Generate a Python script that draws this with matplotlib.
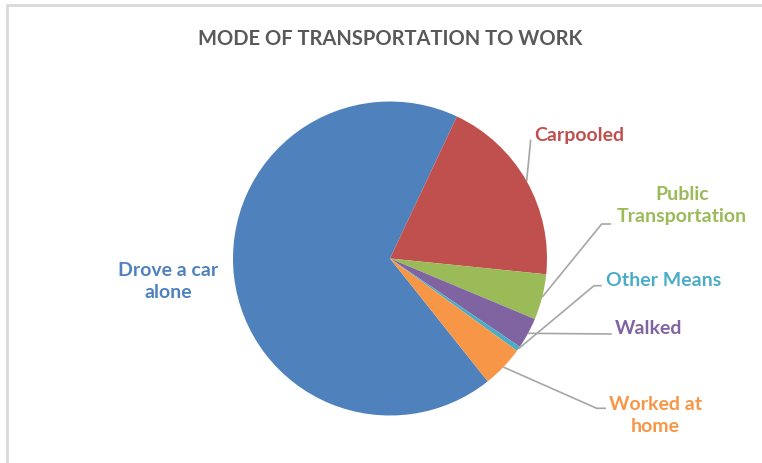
import numpy as np
import matplotlib
matplotlib.use("Agg")
import matplotlib.pyplot as plt
from matplotlib.patches import Rectangle

categories = ["Drove a car\nalone", "Carpooled", "Public\nTransportation", "Walked",
              "Other Means", "Worked at\nhome"]
values = [67.7, 19.6, 4.7, 3.2, 0.5, 4.3]
colors = ["#4F81BD", "#C0504D", "#9BBB59", "#8064A2", "#4BACC6", "#F79646"]
title = "MODE OF TRANSPORTATION TO WORK"

W, H = 762, 464
fig = plt.figure(figsize=(W / 100, H / 100), dpi=100)
ax = fig.add_axes([0, 0, 1, 1])
ax.set_xlim(0, W)
ax.set_ylim(0, H)
ax.set_aspect("equal")
ax.axis("off")

FONT = ["Lato", "DejaVu Sans"]

# chart border
ax.add_patch(Rectangle((7, -5), W, H - 6 + 5, fill=False, edgecolor="#D9D9D9", lw=2))

cx, cy, R = 390, H - 259.5, 157
start = 90 - 141.5
wedges, _ = ax.pie(values, colors=colors, startangle=start, counterclock=False,
                   center=(cx, cy), radius=R, frame=True,
                   wedgeprops=dict(linewidth=0))
ax.set_xlim(0, W)
ax.set_ylim(0, H)
ax.axis("off")

ax.text(390, H - 39, title, ha="center", va="center", fontsize=14.5,
        fontweight="bold", color="#595959", family=FONT)

# label layout: (text center x, text center y (pixel from top), path points from label side)
layout = {
    0: dict(t=(168, 281.5), path=None),
    1: dict(t=(579, 135), path=[(530.7, 140.7)]),
    2: dict(t=(681.7, 205.8), path=[(611, 225), (601.7, 225)]),
    3: dict(t=(648.8, 328.3), path=[(611.7, 335)]),
    4: dict(t=(663.7, 281), path=[(601.7, 286.7), (594, 286.7)]),
    5: dict(t=(655.5, 415.8), path=[(606, 409.3), (596.7, 409.3)]),
}

for i, w in enumerate(wedges):
    mid = np.deg2rad((w.theta1 + w.theta2) / 2)
    ax_pt = (cx + R * np.cos(mid), cy + R * np.sin(mid))
    lay = layout[i]
    if lay["path"]:
        pts = [(x, H - y) for x, y in lay["path"]] + [ax_pt]
        xs, ys = zip(*pts)
        ax.plot(xs, ys, color="#A6A6A6", lw=1.2, solid_capstyle="butt")
    tx, ty = lay["t"]
    ax.text(tx, H - ty, categories[i], ha="center", va="center", fontsize=14,
            fontweight="bold", color=colors[i], family=FONT, linespacing=1.38)

fig.savefig("out.png", dpi=100, facecolor="white")
